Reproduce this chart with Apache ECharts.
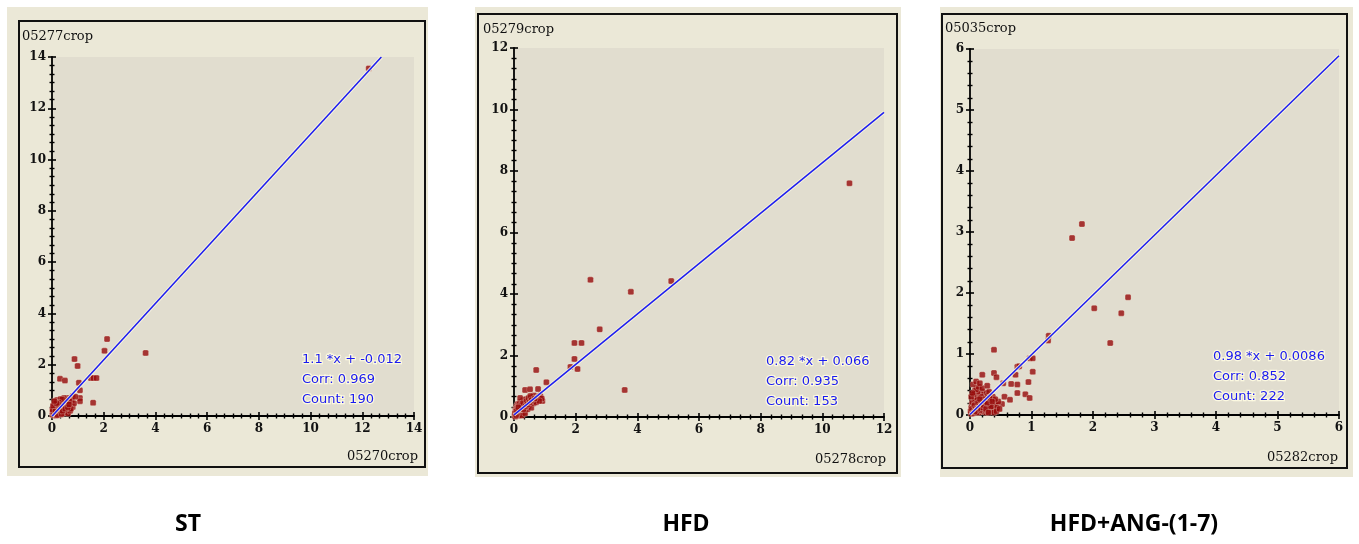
<!DOCTYPE html>
<html>
<head>
<meta charset="utf-8">
<script src="https://cdn.jsdelivr.net/npm/echarts@6/dist/echarts.min.js"></script>
<style>
html,body{margin:0;padding:0;background:#fff;}
#chart{width:1359px;height:544px;}
</style>
</head>
<body>
<div id="chart"></div>
<script>
// ---------------- DATA ----------------
const groupNames = ['ST', 'HFD', 'HFD+ANG-(1-7)'];
const yAxisNames = ['05277crop', '05279crop', '05035crop'];
const xAxisNames = ['05270crop', '05278crop', '05282crop'];
const axisMax = [14, 12, 6];
const majorStep = [2, 2, 1];
const slopes = ['1.1', '0.82', '0.98'];
const intercepts = ['-0.012', '0.066', '0.0086'];
const corrs = ['0.969', '0.935', '0.852'];
const counts = ['190', '153', '222'];

const stPoints = [
  [12.25,13.55],[3.62,2.46],[2.13,3.0],[2.03,2.54],[0.87,2.22],[0.99,1.95],
  [0.31,1.45],[0.5,1.38],[1.04,1.3],[1.5,1.48],[1.6,1.48],[1.72,1.48],
  [1.59,0.52],[1.08,1.0],[0.8,0.78],[1.08,0.7],[1.08,0.58],[0.77,0.62],
  [0.02,0.05],[0.05,0.12],[0.08,0.03],[0.1,0.2],[0.12,0.08],[0.15,0.15],[0.18,0.05],
  [0.2,0.28],[0.22,0.12],[0.25,0.2],[0.28,0.35],[0.3,0.1],[0.32,0.25],[0.35,0.4],
  [0.38,0.18],[0.4,0.3],[0.42,0.5],[0.45,0.22],[0.48,0.38],[0.5,0.6],[0.52,0.15],
  [0.55,0.45],[0.58,0.3],[0.6,0.7],[0.62,0.5],[0.65,0.25],[0.7,0.55],[0.72,0.4],
  [0.75,0.62],[0.8,0.35],[0.85,0.5],[0.9,0.75],[0.05,0.3],[0.08,0.45],[0.1,0.38],
  [0.12,0.55],[0.15,0.32],[0.18,0.42],[0.2,0.5],[0.25,0.6],[0.3,0.52],[0.06,0.22],
  [0.14,0.26],[0.24,0.08],[0.34,0.06],[0.44,0.12],[0.16,0.02],[0.26,0.42],[0.36,0.28],
  [0.46,0.7],[0.54,0.22],[0.1,0.1],[0.2,0.18],[0.3,0.3],[0.4,0.42],[0.03,0.15],
  [0.07,0.08],[0.13,0.35],[0.22,0.36],[0.28,0.18],[0.38,0.55],[0.48,0.12],[0.58,0.52],
  [0.68,0.3],[0.02,0.25],[0.11,0.48],[0.19,0.62],[0.33,0.66],[0.04,0.4],[0.62,0.1],[0.7,0.2],
  [0.43,0.33],[0.47,0.46],[0.53,0.35],[0.57,0.62],[0.63,0.42],[0.67,0.58],[0.73,0.28],
  [0.35,0.5],[0.39,0.65],[0.27,0.52],[0.23,0.46],[0.17,0.5],[0.09,0.58],[0.13,0.18],
  [0.21,0.04],[0.31,0.2],[0.37,0.08],[0.41,0.2],[0.51,0.28],[0.61,0.34],[0.66,0.45]
];

const hfdPoints = [
  [10.88,7.6],[5.1,4.42],[3.79,4.07],[2.48,4.46],[2.78,2.85],[3.59,0.88],
  [1.96,2.41],[2.19,2.41],[1.96,1.89],[1.83,1.63],[2.06,1.56],[0.72,1.53],
  [1.05,1.13],[0.36,0.88],[0.52,0.9],[0.78,0.91],[0.92,0.52],[0.81,0.66],
  [0.02,0.05],[0.05,0.1],[0.08,0.15],[0.1,0.05],[0.12,0.22],[0.15,0.12],[0.18,0.28],
  [0.2,0.18],[0.22,0.08],[0.25,0.3],[0.28,0.22],[0.3,0.35],[0.32,0.15],[0.35,0.4],
  [0.38,0.28],[0.4,0.45],[0.42,0.32],[0.45,0.5],[0.48,0.38],[0.5,0.55],[0.52,0.42],
  [0.55,0.6],[0.58,0.48],[0.6,0.65],[0.62,0.52],[0.65,0.7],[0.7,0.58],[0.75,0.62],
  [0.8,0.66],[0.85,0.7],[0.9,0.6],[0.05,0.25],[0.08,0.35],[0.1,0.3],[0.12,0.42],
  [0.15,0.38],[0.2,0.48],[0.25,0.5],[0.3,0.55],[0.06,0.18],[0.14,0.2],[0.24,0.15],
  [0.34,0.22],[0.16,0.05],[0.26,0.05],[0.36,0.12],[0.44,0.25],[0.04,0.02],[0.11,0.12],
  [0.19,0.35],[0.27,0.4],[0.33,0.3],[0.46,0.35],[0.56,0.3],[0.64,0.45],[0.72,0.48],
  [0.03,0.12],[0.07,0.06],[0.13,0.28],[0.21,0.25],[0.38,0.58],[0.2,0.62],[0.82,0.52],
  [0.17,0.42],[0.23,0.38],[0.29,0.45],[0.41,0.52],[0.47,0.62],[0.53,0.68],[0.09,0.2],
  [0.31,0.25],[0.37,0.35],[0.43,0.4],[0.51,0.48],[0.57,0.55],[0.67,0.6],[0.14,0.32]
];

const angPoints = [
  [1.82,3.13],[1.66,2.9],[2.57,1.93],[2.02,1.75],[2.46,1.67],[2.28,1.18],
  [1.28,1.3],[1.27,1.22],[0.39,1.07],[0.97,0.93],[1.02,0.93],[1.02,0.71],
  [0.77,0.79],[0.8,0.8],[0.74,0.66],[0.39,0.69],[0.43,0.62],[0.2,0.66],
  [0.54,0.52],[0.67,0.51],[0.77,0.5],[0.77,0.36],[0.95,0.54],[0.9,0.34],
  [0.97,0.28],[0.56,0.3],[0.65,0.25],[0.44,0.18],[0.52,0.18],[0.15,0.46],
  [0.02,0.02],[0.04,0.08],[0.06,0.04],[0.08,0.12],[0.1,0.06],[0.12,0.15],[0.14,0.09],
  [0.16,0.2],[0.18,0.05],[0.2,0.14],[0.22,0.22],[0.24,0.1],[0.26,0.18],[0.28,0.26],
  [0.3,0.12],[0.32,0.2],[0.34,0.08],[0.36,0.16],[0.38,0.24],[0.4,0.1],[0.03,0.18],
  [0.05,0.25],[0.07,0.3],[0.09,0.22],[0.11,0.32],[0.13,0.26],[0.15,0.35],[0.17,0.28],
  [0.19,0.38],[0.21,0.3],[0.23,0.34],[0.25,0.28],[0.27,0.36],[0.29,0.32],[0.31,0.38],
  [0.33,0.3],[0.02,0.12],[0.04,0.2],[0.06,0.14],[0.08,0.24],[0.1,0.18],[0.12,0.28],
  [0.14,0.04],[0.16,0.12],[0.18,0.3],[0.2,0.24],[0.22,0.06],[0.24,0.16],[0.26,0.04],
  [0.28,0.14],[0.3,0.22],[0.32,0.1],[0.34,0.18],[0.36,0.06],[0.38,0.14],[0.42,0.18],
  [0.44,0.12],[0.46,0.22],[0.01,0.06],[0.03,0.1],[0.05,0.03],[0.07,0.16],[0.09,0.1],
  [0.11,0.04],[0.13,0.2],[0.15,0.14],[0.17,0.08],[0.19,0.18],[0.21,0.12],[0.23,0.26],
  [0.25,0.08],[0.27,0.2],[0.29,0.06],[0.31,0.16],[0.33,0.24],[0.35,0.26],[0.08,0.4],
  [0.12,0.38],[0.06,0.34],[0.1,0.42],[0.14,0.46],[0.2,0.44],[0.05,0.5],[0.1,0.55],
  [0.28,0.48],[0.16,0.52],[0.37,0.3],[0.41,0.26],[0.39,0.04],[0.43,0.06],[0.48,0.1],
  [0.02,0.3],[0.04,0.36],[0.18,0.12],[0.22,0.16],[0.26,0.1],[0.3,0.04],[0.34,0.14],
  [0.24,0.22],[0.28,0.2],[0.32,0.28],[0.36,0.22],[0.12,0.1],[0.16,0.26],[0.08,0.06]
];
const allPoints = [stPoints, hfdPoints, angPoints];

// ---------------- LAYOUT / STYLE ----------------
const grids = [
  {left: 52, top: 57, width: 362, height: 359},
  {left: 514, top: 48, width: 370, height: 369},
  {left: 970, top: 49, width: 369, height: 366}
];
const minorSplit = [6, 6, 5];
const frames = [
  {outer: [7, 7, 421, 469], border: [19, 21, 406, 446]},
  {outer: [475, 7, 426, 470], border: [478, 14, 419, 459]},
  {outer: [940, 7, 413, 470], border: [942, 14, 405, 454]}
];
const titlePos = [[22, 37], [483, 30], [945, 29]];
const xNamePos = [[418, 457], [886, 460], [1338, 458]];
const statPos = [[302, 360], [766, 362], [1213, 357]];
const bottomPos = [[188, 524], [686, 524], [1134, 524]];

const serif = '"DejaVu Serif", serif';
const xAxes = [], yAxes = [], series = [], graphics = [];

for (let i = 0; i < 3; i++) {
  const common = {
    gridIndex: i, type: 'value', min: 0, max: axisMax[i], interval: majorStep[i],
    splitLine: {show: false}
  };
  const tickStyle = {color: '#000', width: 1.6};
  const minorStyle = {color: '#000', width: 1.4};
  xAxes.push(Object.assign({}, common, {
    position: 'bottom',
    axisLine: {show: true, lineStyle: {color: '#000', width: 1.8}},
    axisTick: {show: true, length: 4, inside: false, lineStyle: tickStyle},
    minorTick: {show: true, splitNumber: minorSplit[i], length: 2.5, lineStyle: minorStyle},
    axisLabel: {color: '#111', fontFamily: serif, fontWeight: 'bold', fontSize: 12, margin: 7}
  }));
  xAxes.push(Object.assign({}, common, {
    position: 'bottom',
    axisLine: {show: false},
    axisTick: {show: true, length: 4, inside: true, lineStyle: tickStyle},
    minorTick: {show: true, splitNumber: minorSplit[i], length: 2.5, lineStyle: minorStyle},
    axisLabel: {show: false}
  }));
  yAxes.push(Object.assign({}, common, {
    position: 'left',
    axisLine: {show: true, lineStyle: {color: '#000', width: 1.8}},
    axisTick: {show: true, length: 4, inside: false, lineStyle: tickStyle},
    minorTick: {show: true, splitNumber: minorSplit[i], length: 2.5, lineStyle: minorStyle},
    axisLabel: {color: '#111', fontFamily: serif, fontWeight: 'bold', fontSize: 12, margin: 6}
  }));
  yAxes.push(Object.assign({}, common, {
    position: 'left',
    axisLine: {show: false},
    axisTick: {show: true, length: 4, inside: true, lineStyle: tickStyle},
    minorTick: {show: true, splitNumber: minorSplit[i], length: 2.5, lineStyle: minorStyle},
    axisLabel: {show: false}
  }));

  series.push({
    type: 'scatter', xAxisIndex: 2 * i, yAxisIndex: 2 * i,
    data: allPoints[i], symbol: 'roundRect', symbolSize: 6,
    itemStyle: {color: '#960a0a', borderColor: 'rgba(250,247,230,0.45)', borderWidth: 0.8},
    z: 3
  });

  const m = parseFloat(slopes[i]), b = parseFloat(intercepts[i]);
  const xEnd = Math.min(axisMax[i], (axisMax[i] - b) / m);
  const lineData = [[0, b], [xEnd, m * xEnd + b]];
  series.push({
    type: 'line', xAxisIndex: 2 * i, yAxisIndex: 2 * i, data: lineData,
    symbol: 'none', clip: true, silent: true,
    lineStyle: {color: 'rgba(255,252,225,0.85)', width: 3.4}, z: 4
  });
  series.push({
    type: 'line', xAxisIndex: 2 * i, yAxisIndex: 2 * i, data: lineData,
    symbol: 'none', clip: true, silent: true,
    lineStyle: {color: '#1f1ff0', width: 1.6}, z: 5
  });

  const f = frames[i];
  graphics.push({
    type: 'rect', z: -20, silent: true,
    shape: {x: f.outer[0], y: f.outer[1], width: f.outer[2], height: f.outer[3]},
    style: {fill: '#ebe8d7'}
  });
  graphics.push({
    type: 'rect', z: -19, silent: true,
    shape: {x: f.border[0], y: f.border[1], width: f.border[2], height: f.border[3]},
    style: {fill: 'none', stroke: '#111', lineWidth: 2}
  });
  graphics.push({
    type: 'text', z: 50, x: titlePos[i][0], y: titlePos[i][1],
    style: {text: yAxisNames[i], font: '13px ' + serif, fill: '#111', textAlign: 'left', textVerticalAlign: 'middle'}
  });
  graphics.push({
    type: 'text', z: 50, x: xNamePos[i][0], y: xNamePos[i][1],
    style: {text: xAxisNames[i], font: '13px ' + serif, fill: '#111', textAlign: 'right', textVerticalAlign: 'middle'}
  });
  const statLines = [slopes[i] + ' *x + ' + intercepts[i], 'Corr: ' + corrs[i], 'Count: ' + counts[i]];
  statLines.forEach((t, k) => {
    graphics.push({
      type: 'text', z: 50, x: statPos[i][0], y: statPos[i][1] + k * 20,
      style: {text: t, font: '13px "DejaVu Sans", sans-serif', fill: '#1a1af0',
        stroke: 'rgba(255,252,225,0.9)', lineWidth: 2.5,
        textAlign: 'left', textVerticalAlign: 'middle'}
    });
  });
  graphics.push({
    type: 'text', z: 50, x: bottomPos[i][0], y: bottomPos[i][1],
    style: {text: groupNames[i], font: 'bold 23px "Open Sans", sans-serif', fill: '#000', textAlign: 'center', textVerticalAlign: 'middle'}
  });
}

const chart = echarts.init(document.getElementById('chart'), null, {renderer: 'canvas'});
chart.setOption({
  animation: false,
  backgroundColor: '#ffffff',
  grid: grids.map(g => Object.assign({show: true, backgroundColor: '#e1ddcf', borderWidth: 0, containLabel: false}, g)),
  xAxis: xAxes,
  yAxis: yAxes,
  series: series,
  graphic: graphics
});
</script>
</body>
</html>
